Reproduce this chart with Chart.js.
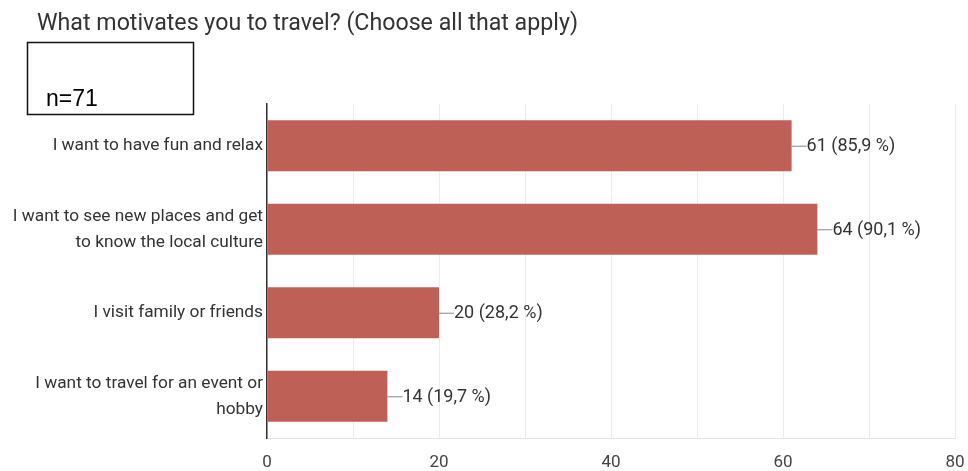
<!DOCTYPE html>
<html>
<head>
<meta charset="utf-8">
<script src="https://cdn.jsdelivr.net/npm/chart.js@4/dist/chart.umd.min.js"></script>
<style>
  html, body { margin: 0; padding: 0; background: #fff; }
  #wrap { width: 968px; height: 471px; position: relative; }
</style>
</head>
<body>
<div id="wrap"><canvas id="c" width="968" height="471"></canvas></div>
<script>
const chartTitle = "What motivates you to travel? (Choose all that apply)";
const sampleNote = "n=71";
const categories = [
  "I want to have fun and relax",
  ["I want to see new places and get", "to know the local culture"],
  "I visit family or friends",
  ["I want to travel for an event or", "hobby"]
];
const counts = [61, 64, 20, 14];
const percents = ["85,9", "90,1", "28,2", "19,7"];
const xTickLabels = [0, 20, 40, 60, 80];

const BAR_COLOR = "#be6056";
const FONT = "Roboto, 'Liberation Sans', Arial, sans-serif";

// Heading text and the sample-size box above the plot
const headerPlugin = {
  id: "header",
  afterDraw(chart) {
    const ctx = chart.ctx;
    ctx.save();
    ctx.fillStyle = "#333";
    ctx.font = "23.2px " + FONT;
    ctx.textBaseline = "middle";
    ctx.textAlign = "left";
    ctx.fillText(chartTitle, 37, 24);

    ctx.strokeStyle = "#111";
    ctx.lineWidth = 1.5;
    ctx.strokeRect(27.5, 42.5, 166, 72);
    ctx.fillStyle = "#000";
    ctx.font = "23px 'Liberation Sans', Arial, sans-serif";
    ctx.textBaseline = "alphabetic";
    ctx.fillText(sampleNote, 46, 106);
    ctx.restore();
  }
};

// Leader line and "count (percent %)" label at the end of each bar
const valueLabelPlugin = {
  id: "valueLabels",
  afterDatasetsDraw(chart) {
    const ctx = chart.ctx;
    const meta = chart.getDatasetMeta(0);
    ctx.save();
    meta.data.forEach((bar, i) => {
      const x = bar.x, y = bar.y;
      ctx.strokeStyle = "#9a9a9a";
      ctx.lineWidth = 1.2;
      ctx.beginPath();
      ctx.moveTo(x, y + 0.5);
      ctx.lineTo(x + 15, y + 0.5);
      ctx.stroke();
      ctx.fillStyle = "#333";
      ctx.font = "18px " + FONT;
      ctx.textBaseline = "middle";
      ctx.textAlign = "left";
      ctx.fillText(counts[i] + " (" + percents[i] + " %)", x + 15, y + 1);
    });
    ctx.restore();
  }
};

new Chart(document.getElementById("c"), {
  type: "bar",
  data: {
    labels: categories,
    datasets: [{
      data: counts,
      backgroundColor: BAR_COLOR,
      borderWidth: 0,
      categoryPercentage: 0.61,
      barPercentage: 1.0
    }]
  },
  options: {
    indexAxis: "y",
    responsive: false,
    animation: false,
    layout: { padding: { top: 104, right: 13, bottom: 0, left: 0 } },
    plugins: {
      legend: { display: false },
      tooltip: { enabled: false }
    },
    scales: {
      x: {
        min: 0,
        max: 80,
        ticks: {
          stepSize: 10,
          autoSkip: false,
          maxRotation: 0,
          color: "#444",
          font: { family: FONT, size: 17 },
          padding: 15,
          callback: (v) => (xTickLabels.includes(v) ? String(v) : "")
        },
        grid: {
          color: "#ebebeb",
          lineWidth: 1,
          drawTicks: false
        },
        border: { display: true, color: "#e3e3e3", width: 1 },
        afterFit(scale) {
          scale.height = 33;
          scale.paddingLeft = 0;
          scale.paddingRight = 0;
        }
      },
      y: {
        ticks: {
          color: "#333",
          font: { family: FONT, size: 17.3, lineHeight: 1.5 },
          padding: 4
        },
        grid: { display: false, drawTicks: false },
        border: { display: true, color: "#333", width: 1.5 },
        afterFit(scale) { scale.width = 267; }
      }
    }
  },
  plugins: [headerPlugin, valueLabelPlugin]
});
</script>
</body>
</html>
